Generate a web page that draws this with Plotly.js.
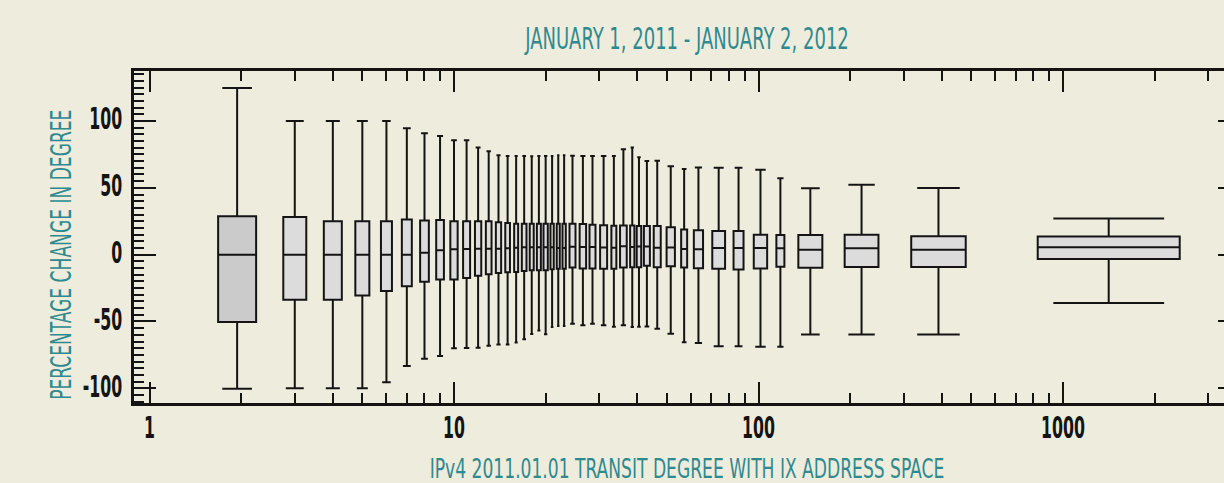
<!DOCTYPE html>
<html>
<head>
<meta charset="utf-8">
<script src="https://cdn.plot.ly/plotly-3.0.1.min.js"></script>
<style>
  html, body { margin: 0; padding: 0; overflow: hidden; background: #EEECDC; }
  #chart { width: 1250px; height: 483px; }
</style>
</head>
<body>
<div id="chart"></div>
<script>
// ---- data ----
const degree = [1.94, 3, 4, 5, 6, 7, 8, 9, 10, 11, 12, 13, 14, 15, 16, 17, 18, 19, 20, 21, 22, 23,
  24.5, 26.5, 28.5, 31, 33.5, 36, 38.5, 40.5, 43, 46.5, 51.5, 57, 63.5, 74, 86, 101.5, 118, 148, 218, 390, 1413];
const lowerWhisker = [-100.3, -100, -100, -100, -95.4, -83.4, -77.9, -75.9, -70.1, -69.9, -69.7, -68.2, -67.2, -67.2, -65.8, -63.3, -59.3, -56.7, -59.5, -54.2, -53.4, -53.4,
  -51.7, -52.9, -51.7, -52.9, -54.0, -52.9, -54.2, -54.0, -53.8, -55.4, -59.2, -65.6, -66.2, -68.6, -68.6, -68.9, -68.9, -59.8, -59.8, -59.8, -36.1];
const q1 = [-50.4, -33.7, -33.7, -30.5, -27.2, -23.7, -20.3, -18.6, -18.6, -17.5, -15.8, -14.7, -13.7, -13.1, -13.0, -12.2, -11.7, -11.7, -11.7, -11.0, -10.5, -10.5,
  -9.6, -10.3, -10.3, -10.6, -10.6, -9.6, -9.5, -9.4, -8.3, -9.5, -8.7, -9.6, -10.2, -10.6, -11.1, -10.3, -9.0, -9.8, -9.3, -9.3, -3.3];
const median = [0, 0, 0, 0, 0, 0, 1.5, 3.3, 4.0, 4.3, 4.5, 4.5, 4.5, 4.8, 5.2, 5.5, 5.5, 5.5, 5.5, 5.5, 5.0, 5.0,
  5.9, 5.8, 5.8, 5.3, 5.1, 6.2, 5.8, 6.1, 6.1, 5.1, 5.4, 4.3, 4.1, 5.0, 5.0, 4.9, 4.7, 3.7, 4.7, 3.6, 5.5];
const q3 = [28.7, 28.1, 24.9, 24.9, 24.9, 26.2, 25.6, 25.9, 24.9, 25.0, 25.0, 25.0, 24.3, 23.7, 23.2, 23.2, 23.2, 23.2, 23.2, 23.2, 23.2, 23.2,
  23.2, 22.9, 22.4, 21.9, 21.6, 21.8, 21.8, 21.5, 21.4, 21.4, 20.5, 18.8, 18.2, 17.7, 17.7, 14.9, 14.7, 14.7, 14.9, 13.8, 13.6];
const upperWhisker = [124.7, 100, 100, 100, 100, 94.5, 90.8, 88.8, 85.6, 85.6, 80.1, 77.4, 74.3, 73.8, 73.8, 73.8, 73.6, 73.8, 73.8, 73.8, 74.3, 74.4,
  74.0, 73.8, 73.8, 73.8, 73.8, 78.8, 80.1, 72.9, 70.0, 70.2, 66.1, 64.0, 65.2, 65.0, 65.0, 63.5, 57.1, 49.6, 52.3, 49.8, 27.0];
// box widths, in decades of degree
const boxWidthDex = [0.1248, 0.0755, 0.0591, 0.0460, 0.0361, 0.0328, 0.0286, 0.0253, 0.0240, 0.0230, 0.0207, 0.0187, 0.0174, 0.0154, 0.0131, 0.0154, 0.0131, 0.0131, 0.0141, 0.0108, 0.0099, 0.0108,
  0.0197, 0.0213, 0.0197, 0.0230, 0.0164, 0.0220, 0.0141, 0.0148, 0.0197, 0.0230, 0.0273, 0.0197, 0.0302, 0.0420, 0.0328, 0.0440, 0.0263, 0.0788, 0.1110, 0.1790, 0.4663];

const xTickVals = [1, 10, 100, 1000];
const xTickText = ['1', '10', '100', '1000'];
const yTickVals = [-100, -50, 0, 50, 100];
const yTickText = ['-100', '-50', '0', '50', '100'];

const titleText = 'JANUARY 1, 2011 - JANUARY 2, 2012';
const xTitle = 'IPv4 2011.01.01 TRANSIT DEGREE WITH IX ADDRESS SPACE';
const yTitle = 'PERCENTAGE CHANGE IN DEGREE';

// ---- styles ----
const BG = '#EEECDC';
const TEAL = '#2E8A8F';
const INK = '#141414';
const FONT = '"DejaVu Sans Condensed", "DejaVu Sans", sans-serif';

const xRange = [-0.0509, 3.5813];   // log10 of degree
const yRange = [-111, 137.4];

const minorVals = [];
for (let k = 0; k <= 3; k++) for (let m = 2; m <= 9; m++) minorVals.push(m * Math.pow(10, k));

const traces = degree.map((d, i) => ({
  type: 'box',
  x: [Math.log10(d)],
  q1: [q1[i]], median: [median[i]], q3: [q3[i]],
  lowerfence: [lowerWhisker[i]], upperfence: [upperWhisker[i]],
  width: boxWidthDex[i],
  whiskerwidth: 0.78,
  boxpoints: false,
  fillcolor: i === 0 ? '#CBCBCB' : '#DCDCDC',
  line: { color: INK, width: 2 },
  xaxis: 'x', yaxis: 'y',
  hoverinfo: 'skip', showlegend: false
}));
traces.push({ type: 'scatter', x: [], y: [], xaxis: 'x2', yaxis: 'y', showlegend: false, hoverinfo: 'skip' });

const tickFont = { family: FONT, size: 24, color: INK, weight: 'bold' };

const layout = {
  width: 1250, height: 483,
  margin: { l: 134, r: 10, t: 71, b: 80 },
  paper_bgcolor: BG, plot_bgcolor: BG,
  font: { family: FONT, color: INK, size: 24 },
  boxmode: 'overlay',
  title: { text: titleText, font: { family: FONT, size: 23, color: TEAL },
           xref: 'paper', x: 0.5, xanchor: 'center', yref: 'container', y: 1 - 39 / 483, yanchor: 'middle' },
  xaxis: { type: 'linear', range: xRange, visible: false, fixedrange: true },
  xaxis2: {
    type: 'log', overlaying: 'x', anchor: 'y', side: 'bottom', range: xRange,
    showline: true, linecolor: INK, linewidth: 3, mirror: 'ticks',
    ticks: 'inside', ticklen: 21, tickwidth: 2, tickcolor: INK,
    tickmode: 'array', tickvals: xTickVals, ticktext: xTickText,
    tickfont: tickFont, ticklabelstandoff: 3,
    minor: { ticks: 'inside', ticklen: 10, tickwidth: 2, tickcolor: INK, tickmode: 'array', tickvals: minorVals, showgrid: false },
    showgrid: false, zeroline: false,
    title: { text: xTitle, font: { family: FONT, size: 21, color: TEAL }, standoff: 23 }
  },
  yaxis: {
    range: yRange,
    showline: true, linecolor: INK, linewidth: 3, mirror: 'ticks',
    ticks: 'inside', ticklen: 22, tickwidth: 2, tickcolor: INK,
    tickmode: 'array', tickvals: yTickVals, ticktext: yTickText,
    tickfont: tickFont, ticklabelstandoff: 4,
    minor: { ticks: 'inside', ticklen: 10, tickwidth: 2, tickcolor: INK, dtick: 5, tick0: 0, showgrid: false },
    showgrid: false, zeroline: false
  },
  annotations: [{
    text: yTitle, textangle: -90, showarrow: false,
    xref: 'paper', yref: 'paper', x: (64 - 134) / 1106, y: (403 - 255) / 332,
    xanchor: 'center', yanchor: 'middle',
    font: { family: FONT, size: 21, color: TEAL }
  }]
};

// narrow, tall lettering like the reference's condensed face
function squeeze(el, sx, sy) {
  const x = parseFloat(el.getAttribute('x')) || 0;
  const y = parseFloat(el.getAttribute('y')) || 0;
  const t = el.getAttribute('transform') || '';
  el.setAttribute('transform', t + ' translate(' + x + ',' + y + ') scale(' + sx + ',' + sy + ') translate(' + (-x) + ',' + (-y) + ')');
}

Plotly.newPlot('chart', traces, layout, { staticPlot: true, displayModeBar: false }).then(gd => {
  gd.querySelectorAll('.x2tick text, .ytick text').forEach(el => squeeze(el, 0.73, 1.26));
  gd.querySelectorAll('.gtitle').forEach(el => squeeze(el, 0.87, 1.3));
  gd.querySelectorAll('.x2title').forEach(el => squeeze(el, 0.907, 1.27));
  gd.querySelectorAll('.annotation-text').forEach(el => squeeze(el, 0.906, 1.37));
});
</script>
</body>
</html>
